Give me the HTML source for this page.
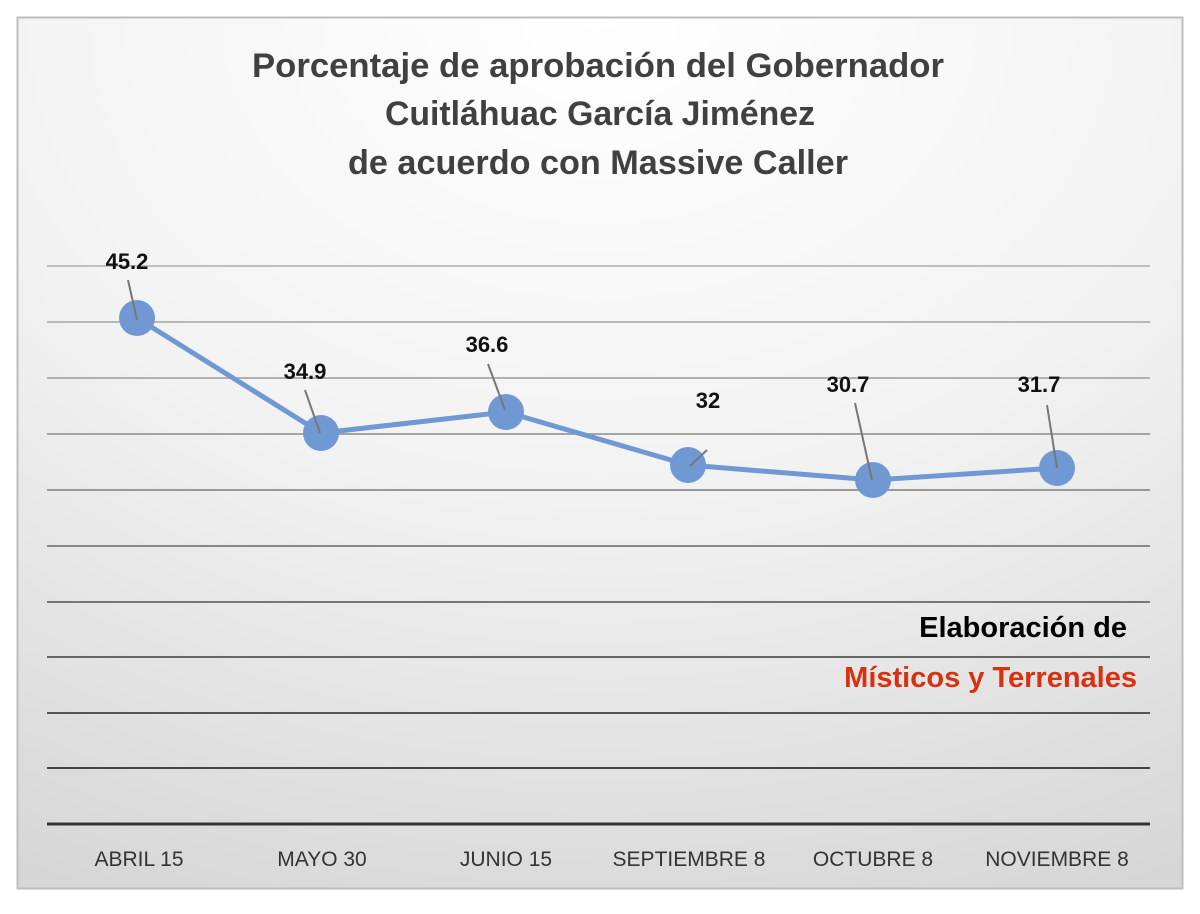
<!DOCTYPE html>
<html><head><meta charset="utf-8"><style>
body{margin:0;width:1200px;height:909px;background:#fff;overflow:hidden}
</style></head><body>
<svg width="1200" height="909" xmlns="http://www.w3.org/2000/svg" font-family="Liberation Sans, sans-serif">
<defs>
<radialGradient id="bg" cx="0.5" cy="0" r="1.1" fx="0.5" fy="0">
<stop offset="0" stop-color="#ffffff"/><stop offset="0.5" stop-color="#f2f2f2"/><stop offset="1" stop-color="#d6d6d6"/>
</radialGradient>
</defs>
<rect x="17.5" y="17.5" width="1165" height="871" fill="url(#bg)" stroke="#bdbdbd" stroke-width="2"/>
<g stroke-width="2">
<line x1="47" x2="1150" y1="266" y2="266" stroke="#c0c0c0"/>
<line x1="47" x2="1150" y1="322" y2="322" stroke="#b8b8b8"/>
<line x1="47" x2="1150" y1="378" y2="378" stroke="#b0b0b0"/>
<line x1="47" x2="1150" y1="434" y2="434" stroke="#a4a4a4"/>
<line x1="47" x2="1150" y1="490" y2="490" stroke="#989898"/>
<line x1="47" x2="1150" y1="546" y2="546" stroke="#888"/>
<line x1="47" x2="1150" y1="602" y2="602" stroke="#777"/>
<line x1="47" x2="1150" y1="657" y2="657" stroke="#666"/>
<line x1="47" x2="1150" y1="713" y2="713" stroke="#555"/>
<line x1="47" x2="1150" y1="768" y2="768" stroke="#444"/>
<line x1="47" x2="1150" y1="824" y2="824" stroke="#333" stroke-width="3"/>
</g>
<g font-weight="bold" fill="#404040" text-anchor="middle" font-size="34">
<text x="598" y="77" textLength="692" lengthAdjust="spacingAndGlyphs">Porcentaje de aprobación del Gobernador</text>
<text x="600" y="125" textLength="430" lengthAdjust="spacingAndGlyphs">Cuitláhuac García Jiménez</text>
<text x="598" y="174" textLength="500" lengthAdjust="spacingAndGlyphs">de acuerdo con Massive Caller</text>
</g>
<polyline points="137,318 321,433 506,412 688,465 873,480 1057,468" fill="none" stroke="#7099d4" stroke-width="5"/>
<g fill="#7099d4">
<circle cx="137" cy="318" r="18"/><circle cx="321" cy="433" r="18"/><circle cx="506" cy="412" r="18"/>
<circle cx="688" cy="465" r="18"/><circle cx="873" cy="480" r="18"/><circle cx="1057" cy="468" r="18"/>
</g>
<g stroke="#777" stroke-width="2">
<line x1="128" y1="280" x2="137" y2="320"/>
<line x1="305" y1="390" x2="320" y2="433"/>
<line x1="488" y1="364" x2="505" y2="410"/>
<line x1="707" y1="450" x2="690" y2="466"/>
<line x1="855" y1="403" x2="872" y2="480"/>
<line x1="1047" y1="405" x2="1057" y2="468"/>
</g>
<g font-weight="bold" font-size="22" fill="#111" text-anchor="middle">
<text x="127" y="269">45.2</text>
<text x="305" y="379">34.9</text>
<text x="487" y="352">36.6</text>
<text x="708" y="408">32</text>
<text x="848" y="392">30.7</text>
<text x="1039" y="392">31.7</text>
</g>
<text x="1127" y="637" text-anchor="end" font-weight="bold" font-size="29" fill="#000">Elaboración de</text>
<text x="1137" y="687" text-anchor="end" font-weight="bold" font-size="29" fill="#d9300f">Místicos y Terrenales</text>
<g font-size="21" fill="#333" text-anchor="middle">
<text x="139" y="866">ABRIL 15</text>
<text x="322" y="866">MAYO 30</text>
<text x="506" y="866">JUNIO 15</text>
<text x="689" y="866">SEPTIEMBRE 8</text>
<text x="873" y="866">OCTUBRE 8</text>
<text x="1057" y="866">NOVIEMBRE 8</text>
</g>
</svg>
</body></html>
